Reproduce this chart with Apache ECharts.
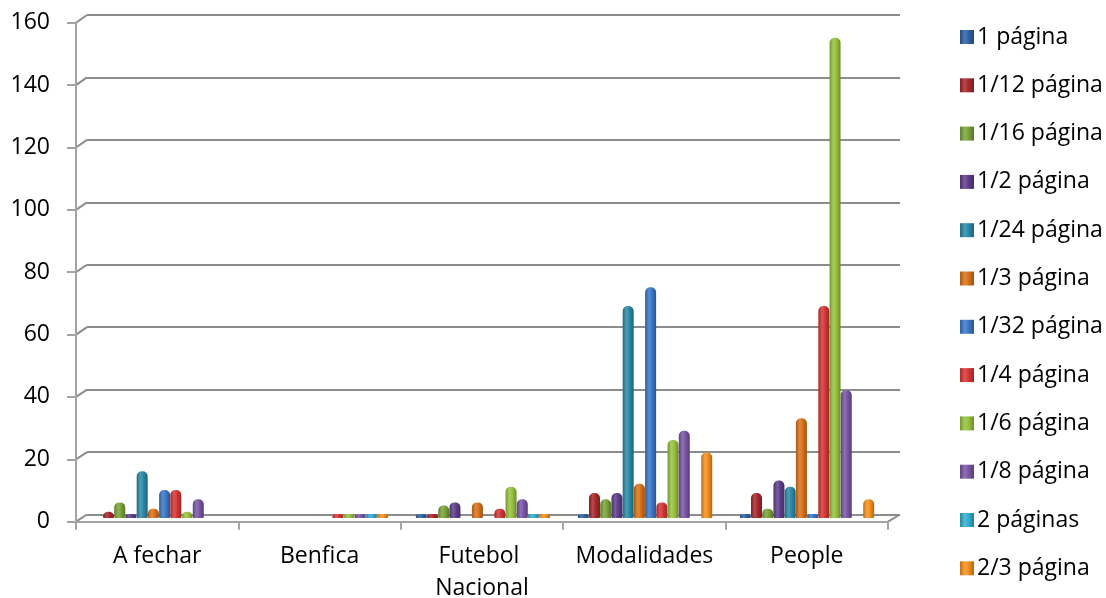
<!DOCTYPE html>
<html>
<head>
<meta charset="utf-8">
<script src="https://cdn.jsdelivr.net/npm/echarts@6/dist/echarts.min.js"></script>
<style>
  html, body { margin: 0; padding: 0; background: #ffffff; }
  #chart { width: 1106px; height: 598px; }
</style>
</head>
<body>
<div id="chart"></div>
<script>
// Categories along the x axis
const categories = ['A fechar', 'Benfica', 'Futebol Nacional', 'Modalidades', 'People'];

// Counts per ad size (null = no entry for that category)
const s1Pagina    = [null, null, 0, 0, 0];
const s1_12Pagina = [2, null, 0, 8, 8];
const s1_16Pagina = [5, null, 4, 6, 3];
const s1_2Pagina  = [0, null, 5, 8, 12];
const s1_24Pagina = [15, null, null, 68, 10];
const s1_3Pagina  = [3, null, 5, 11, 32];
const s1_32Pagina = [9, null, null, 74, 0];
const s1_4Pagina  = [9, 0, 3, 5, 68];
const s1_6Pagina  = [2, 0, 10, 25, 154];
const s1_8Pagina  = [6, 1, 6, 28, 41];
const s2Paginas   = [null, 0, 0, null, null];
const s2_3Pagina  = [null, 0, 0, 21, 6];

const seriesNames = ['1 página', '1/12 página', '1/16 página', '1/2 página', '1/24 página', '1/3 página',
                     '1/32 página', '1/4 página', '1/6 página', '1/8 página', '2 páginas', '2/3 página'];
const seriesValues = [s1Pagina, s1_12Pagina, s1_16Pagina, s1_2Pagina, s1_24Pagina, s1_3Pagina,
                      s1_32Pagina, s1_4Pagina, s1_6Pagina, s1_8Pagina, s2Paginas, s2_3Pagina];
const seriesColors = ['#2f62a6', '#a8282c', '#7aa33a', '#5f3e8c', '#2a8aa6', '#d9721a',
                      '#3a78c8', '#d63636', '#98c23e', '#7a56a6', '#34aed0', '#f5901e'];

// Value axis ticks
const yMin = 0, yMax = 160, yStep = 20;

function mix(hex, target, t) {
  const n = parseInt(hex.slice(1), 16);
  const r = (n >> 16) & 255, g = (n >> 8) & 255, b = n & 255;
  const f = c => Math.round(c + (target - c) * t);
  return 'rgb(' + f(r) + ',' + f(g) + ',' + f(b) + ')';
}
// Horizontal shading that makes each bar read as a cylinder
function cylinder(hex) {
  return {
    type: 'linear', x: 0, y: 0, x2: 1, y2: 0,
    colorStops: [
      { offset: 0, color: mix(hex, 0, 0.22) },
      { offset: 0.35, color: mix(hex, 255, 0.16) },
      { offset: 0.6, color: hex },
      { offset: 1, color: mix(hex, 0, 0.28) }
    ]
  };
}

const FONT = 'Open Sans';
const FS = 23;
const gridLine = '#8c8c8c';
const axisLine = '#a3a3a3';

const chart = echarts.init(document.getElementById('chart'), null, { renderer: 'canvas' });

const series = seriesNames.map((name, i) => ({
  name: name,
  type: 'bar',
  xAxisIndex: 2,
  yAxisIndex: 2,
  data: seriesValues[i],
  barWidth: 11,
  barGap: '2%',
  barMinHeight: 4,
  itemStyle: { color: cylinder(seriesColors[i]), borderRadius: [5, 5, 1, 1] },
  emphasis: { disabled: true }
}));

chart.setOption({
  animation: false,
  textStyle: { fontFamily: FONT },
  grid: [
    // back wall (gridlines)
    { left: 87, right: 206, top: 15, bottom: 83.5, outerBoundsMode: 'none', containLabel: false },
    // front axes
    { left: 76, right: 218, top: 22.7, bottom: 76.3, outerBoundsMode: 'none', containLabel: false },
    // bars sit at mid depth
    { left: 78, right: 218, top: 19, bottom: 80, outerBoundsMode: 'none', containLabel: false }
  ],
  legend: {
    orient: 'vertical',
    left: 955,
    top: 20,
    itemWidth: 14,
    itemHeight: 14,
    itemGap: 24.3,
    icon: 'rect',
    textStyle: { fontFamily: FONT, fontSize: FS, color: '#000', lineHeight: 24, padding: [0, 0, 0, -2] },
    data: seriesNames
  },
  xAxis: [
    { gridIndex: 0, type: 'category', data: categories, show: false },
    {
      gridIndex: 1, type: 'category', data: categories,
      axisLine: { show: true, lineStyle: { color: axisLine, width: 2 } },
      axisTick: { show: true, length: 8, lineStyle: { color: axisLine, width: 2 } },
      axisLabel: {
        fontFamily: FONT, fontSize: FS, color: '#000', margin: 19, lineHeight: 32,
        width: 155, overflow: 'break', interval: 0
      },
      splitLine: { show: false }
    },
    { gridIndex: 2, type: 'category', data: categories, show: false }
  ],
  yAxis: [
    {
      gridIndex: 0, type: 'value', min: yMin, max: yMax, interval: yStep,
      axisLine: { show: false }, axisTick: { show: false }, axisLabel: { show: false },
      splitLine: { show: true, lineStyle: { color: gridLine, width: 2 } }
    },
    {
      gridIndex: 1, type: 'value', min: yMin, max: yMax, interval: yStep,
      axisLine: { show: true, lineStyle: { color: axisLine, width: 2 } },
      axisTick: { show: true, length: 9, lineStyle: { color: axisLine, width: 2 } },
      axisLabel: { fontFamily: FONT, fontSize: FS, color: '#000', margin: 26 },
      splitLine: { show: false }
    },
    { gridIndex: 2, type: 'value', min: yMin, max: yMax, interval: yStep, show: false, splitLine: { show: false } }
  ],
  series: series
});

// Short diagonal connectors joining the front axis to the back wall
(function drawConnectors() {
  const model = chart.getModel();
  const front = model.getComponent('grid', 1).coordinateSystem.getRect();
  const back = model.getComponent('grid', 0).coordinateSystem.getRect();
  const elements = [];
  for (let v = yMin; v <= yMax; v += yStep) {
    const yf = chart.convertToPixel({ yAxisIndex: 1 }, v);
    const yb = chart.convertToPixel({ yAxisIndex: 0 }, v);
    elements.push({
      type: 'line', silent: true,
      shape: { x1: front.x, y1: yf, x2: back.x, y2: yb },
      style: { stroke: gridLine, lineWidth: 2 }
    });
  }
  const y0f = chart.convertToPixel({ yAxisIndex: 1 }, yMin);
  const y0b = chart.convertToPixel({ yAxisIndex: 0 }, yMin);
  elements.push({
    type: 'line', silent: true,
    shape: { x1: front.x + front.width, y1: y0f, x2: back.x + back.width, y2: y0b },
    style: { stroke: gridLine, lineWidth: 2 }
  });
  chart.setOption({ graphic: elements });
})();
</script>
</body>
</html>
